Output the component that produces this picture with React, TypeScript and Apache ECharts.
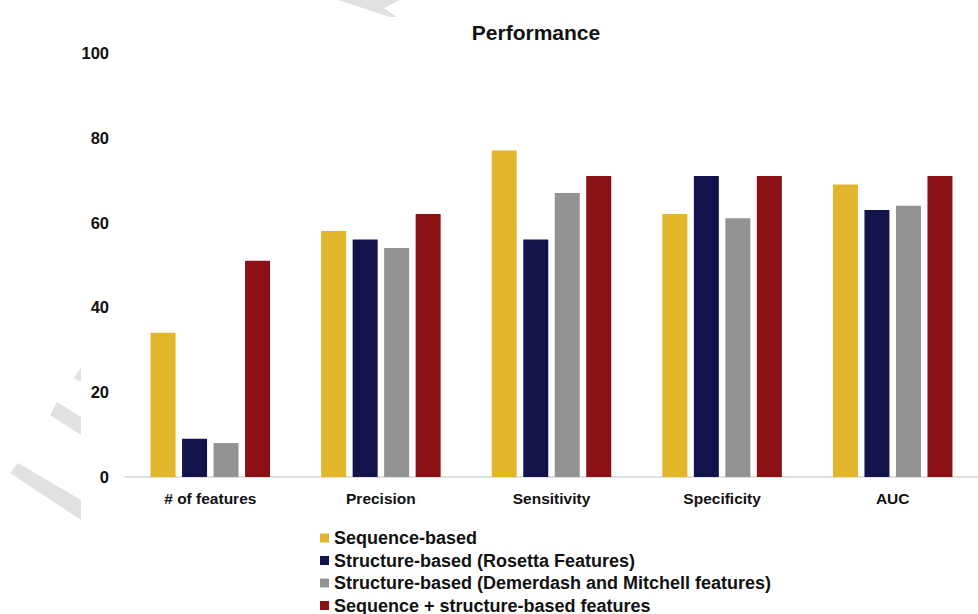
import React, { useEffect, useRef } from "react";
import * as echarts from "echarts";

const categories = ["# of features", "Precision", "Sensitivity", "Specificity", "AUC"];

const sequenceBased = [34, 58, 77, 62, 69];
const rosettaFeatures = [9, 56, 56, 71, 63];
const demerdashMitchell = [8, 54, 67, 61, 64];
const combinedFeatures = [51, 62, 71, 71, 71];

const seriesNames = [
  "Sequence-based",
  "Structure-based (Rosetta Features)",
  "Structure-based (Demerdash and Mitchell features)",
  "Sequence + structure-based features",
];

const yTicks = { min: 0, max: 100, interval: 20 };

const colors = ["#E2B62A", "#13134B", "#939393", "#8C1114"];

const FONT = "'Liberation Sans', Arial, Helvetica, sans-serif";
const INK = "#111111";

// faint diagonal strokes in the left margin
const strokeFill = "#e1e1e1";
const marginStrokes = [
  [[10, 473], [18, 463], [81, 500], [81, 520]],
  [[50, 415], [57, 402], [81, 417], [81, 435]],
  [[74, 378], [81, 367], [81, 382]],
  [[338, 0], [400, 0], [384, 8], [397, 17], [390, 17]],
];

export default function App() {
  const ref = useRef<HTMLDivElement>(null);

  useEffect(() => {
    if (!ref.current) return;
    const chart = echarts.init(ref.current, null, { renderer: "svg" });
    const data = [sequenceBased, rosettaFeatures, demerdashMitchell, combinedFeatures];

    chart.setOption({
      animation: false,
      backgroundColor: "#ffffff",
      title: {
        text: "Performance",
        left: 531,
        top: 27,
        textAlign: "center",
        textVerticalAlign: "middle",
        textStyle: { fontFamily: FONT, fontSize: 21, fontWeight: "bold", color: INK },
      },
      graphic: marginStrokes.map((pts) => ({
        type: "polygon",
        silent: true,
        z: 0,
        shape: { points: pts },
        style: { fill: strokeFill },
      })),
      legend: {
        orient: "vertical",
        left: 320,
        top: 529,
        height: 120,
        padding: 0,
        itemWidth: 9,
        itemHeight: 9,
        itemGap: 4.5,
        icon: "rect",
        data: seriesNames,
        textStyle: { fontFamily: FONT, fontSize: 18, fontWeight: "bold", color: INK },
      },
      grid: { left: 125, right: -11, top: 53, bottom: 137 },
      xAxis: {
        type: "category",
        data: categories,
        axisLine: { show: true, lineStyle: { color: "#d6d6d6", width: 1.5 } },
        axisTick: { show: false },
        axisLabel: {
          margin: 13,
          fontFamily: FONT,
          fontSize: 15.5,
          fontWeight: "bold",
          color: INK,
        },
      },
      yAxis: {
        type: "value",
        min: yTicks.min,
        max: yTicks.max,
        interval: yTicks.interval,
        axisLine: { show: false },
        axisTick: { show: false },
        splitLine: { show: false },
        axisLabel: {
          margin: 16,
          fontFamily: FONT,
          fontSize: 16.5,
          fontWeight: "bold",
          color: INK,
        },
      },
      series: seriesNames.map((name, i) => ({
        name,
        type: "bar",
        data: data[i],
        barWidth: 25,
        barGap: "26%",
        itemStyle: { color: colors[i] },
      })),
    });

    return () => chart.dispose();
  }, []);

  return (
    <div
      ref={ref}
      style={{ position: "fixed", left: 0, top: 0, width: 978, height: 614 }}
    />
  );
}
